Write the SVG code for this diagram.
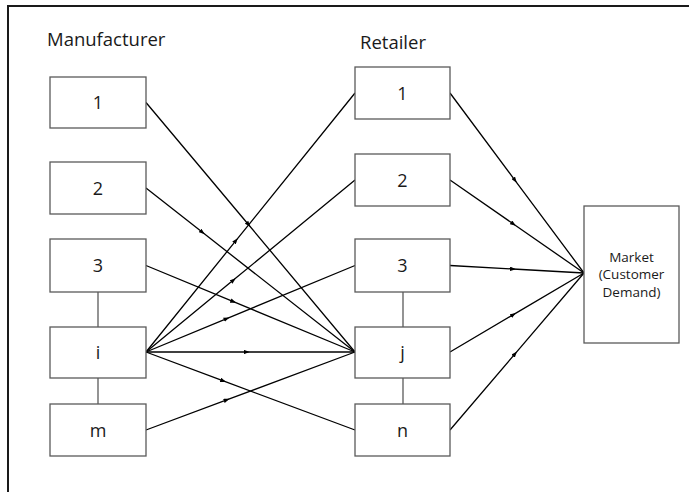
<svg xmlns="http://www.w3.org/2000/svg" width="689" height="492" viewBox="0 0 689 492">
<defs>
<marker id="arr" viewBox="0 0 8 6" refX="4" refY="3" markerWidth="6" markerHeight="4.5" markerUnits="userSpaceOnUse" orient="auto">
<path d="M0,0 L8,3 L0,6 Z" fill="#000"/>
</marker>
<style>
.box{fill:#fff;stroke:#5a5a5a;stroke-width:1.3}
.lbl{font-family:"Open Sans","DejaVu Sans",sans-serif;font-size:18px;fill:#1a1a1a;text-anchor:middle}
.hdr{font-family:"Open Sans","DejaVu Sans",sans-serif;font-size:18.5px;fill:#1a1a1a}
.mk{font-family:"Open Sans","DejaVu Sans",sans-serif;font-size:13.5px;fill:#1a1a1a;text-anchor:middle}
.c{fill:none;stroke:#000;stroke-width:1.3;marker-mid:url(#arr)}
.v{stroke:#5a5a5a;stroke-width:1.3}
.frame{stroke:#1a1a1a;stroke-width:2}
</style>
</defs>
<g id="frame">
<line class="frame" x1="8" y1="6" x2="689" y2="6"/>
<line class="frame" x1="8" y1="5" x2="8" y2="492"/>
</g>
<text class="hdr" x="47" y="46">Manufacturer</text>
<text class="hdr" x="360" y="49">Retailer</text>
<g id="connectors">
<line class="v" x1="98" y1="292" x2="98" y2="327"/>
<line class="v" x1="98" y1="378" x2="98" y2="404"/>
<line class="v" x1="403" y1="292" x2="403" y2="327"/>
<line class="v" x1="403" y1="378" x2="403" y2="404"/>
<polyline class="c" points="146,102.5 248.4,224.5 355,352"/>
<polyline class="c" points="146,188 202.4,232.3 355,352"/>
<polyline class="c" points="146,265.5 233.4,301.7 355,352"/>
<polyline class="c" points="146,352 235.9,240.6 355,93"/>
<polyline class="c" points="146,352 233.4,280.1 355,180"/>
<polyline class="c" points="146,352 226.7,318.6 355,265.5"/>
<polyline class="c" points="146,352 246.7,352 355,352"/>
<polyline class="c" points="146,352 223.3,380.9 355,430"/>
<polyline class="c" points="146,430 226.7,399.9 355,352"/>
<polyline class="c" points="450,93 515,180.3 584,273"/>
<polyline class="c" points="450,180 513.4,224 584,273"/>
<polyline class="c" points="450,265.5 513,269 584,273"/>
<polyline class="c" points="450,352 513.4,314.6 584,273"/>
<polyline class="c" points="450,430 515,353.9 584,273"/>
</g>
<g id="m1"><rect class="box" x="50" y="77" width="96" height="51"/><text class="lbl" x="98" y="109">1</text></g>
<g id="m2"><rect class="box" x="50" y="162" width="96" height="52"/><text class="lbl" x="98" y="194.5">2</text></g>
<g id="m3"><rect class="box" x="50" y="239" width="96" height="53"/><text class="lbl" x="98" y="272">3</text></g>
<g id="mi"><rect class="box" x="50" y="327" width="96" height="51"/><text class="lbl" x="98" y="359">i</text></g>
<g id="mm"><rect class="box" x="50" y="404" width="96" height="52"/><text class="lbl" x="98" y="436.5">m</text></g>
<g id="r1"><rect class="box" x="355" y="67" width="95" height="52"/><text class="lbl" x="402.5" y="99.5">1</text></g>
<g id="r2"><rect class="box" x="355" y="154" width="95" height="52"/><text class="lbl" x="402.5" y="186.5">2</text></g>
<g id="r3"><rect class="box" x="355" y="239" width="95" height="53"/><text class="lbl" x="402.5" y="272">3</text></g>
<g id="rj"><rect class="box" x="355" y="327" width="95" height="51"/><text class="lbl" x="402.5" y="359">j</text></g>
<g id="rn"><rect class="box" x="355" y="404" width="95" height="52"/><text class="lbl" x="402.5" y="436.5">n</text></g>
<g id="market"><rect class="box" x="584" y="206" width="95" height="137"/>
<text class="mk" x="631.5" y="262">Market</text>
<text class="mk" x="631.5" y="279.3">(Customer</text>
<text class="mk" x="631.5" y="296.6">Demand)</text></g>
</svg>
